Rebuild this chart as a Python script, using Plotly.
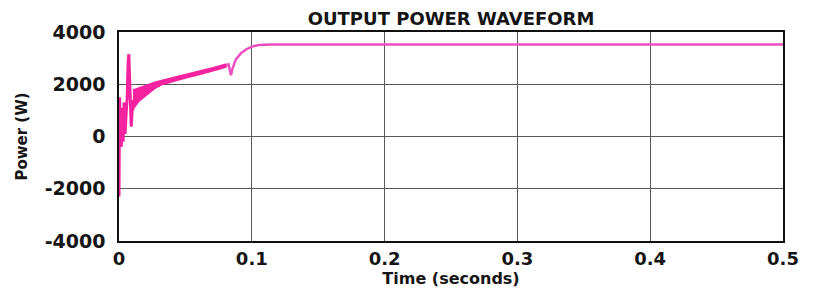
import plotly.graph_objects as go

# Thin waveform segments (time in s, power in W)
t_start = [0.0, 0.0004, 0.0010, 0.0017, 0.0024, 0.0031, 0.0038, 0.0046, 0.0054, 0.0062, 0.0068, 0.0074, 0.0080, 0.0086, 0.0092, 0.0098, 0.0105]
p_start = [-2300, 1500, 300, -400, 1100, -200, 1300, 100, 900, 1500, 2800, 3150, 2200, 700, 380, 900, 1400]

# Oscillating band (upper / lower envelope)
band_t = [0.0105, 0.012, 0.015, 0.018, 0.022, 0.027, 0.032, 0.040, 0.050, 0.060, 0.070, 0.077, 0.081]
band_hi = [1800, 1800, 1860, 1920, 1990, 2080, 2140, 2250, 2380, 2500, 2620, 2720, 2780]
band_lo = [1000, 1150, 1350, 1480, 1650, 1840, 1980, 2100, 2240, 2360, 2490, 2600, 2670]

t_end = [0.081, 0.0825, 0.0843, 0.0855, 0.088, 0.092, 0.096, 0.100, 0.105, 0.115, 0.5]
p_end = [2720, 2760, 2350, 2600, 2950, 3200, 3340, 3440, 3500, 3520, 3520]

x_ticks = [0, 0.1, 0.2, 0.3, 0.4, 0.5]
x_labels = ["0", "0.1", "0.2", "0.3", "0.4", "0.5"]
y_ticks = [-4000, -2000, 0, 2000, 4000]
y_labels = ["-4000", "-2000", "0", "2000", "4000"]

color = "#f5239f"
fig = go.Figure()
fig.add_trace(go.Scatter(x=band_t, y=band_lo, mode="lines", line=dict(color=color, width=1.5), hoverinfo="skip"))
fig.add_trace(go.Scatter(x=band_t, y=band_hi, mode="lines", line=dict(color=color, width=1.5), fill="tonexty", fillcolor=color))
fig.add_trace(go.Scatter(x=t_start, y=p_start, mode="lines", line=dict(color=color, width=3)))
fig.add_trace(go.Scatter(x=t_end, y=p_end, mode="lines", line=dict(color="#ec4fc0", width=2.5)))

font = "DejaVu Sans"
# page body has an 8px margin, so the figure is 8px smaller than the window
fig.update_layout(
    width=813, height=286,
    margin=dict(l=111, r=38, t=24, b=53, autoexpand=False),
    paper_bgcolor="white", plot_bgcolor="white",
    showlegend=False,
    title=dict(text="<b>OUTPUT POWER WAVEFORM</b>", x=0.5, xref="paper", xanchor="center",
               y=1, yref="container", yanchor="top", pad=dict(t=4),
               font=dict(family=font, size=18, color="#151515"), automargin=False),
    font=dict(family=font, color="#151515"),
)
fig.update_xaxes(range=[0, 0.5], tickvals=x_ticks, ticktext=["<b>%s</b>" % s for s in x_labels],
                 tickfont=dict(size=18, family=font), showgrid=True, gridcolor="#5a5a5a", gridwidth=1,
                 showline=True, linecolor="#111", linewidth=1.5, mirror=True, ticks="", zeroline=False,
                 automargin=False, ticklabelstandoff=1,
                 title=dict(text="<b>Time (seconds)</b>", font=dict(size=16, family=font), standoff=2))
fig.update_yaxes(range=[-4000, 4000], tickvals=y_ticks, ticktext=["<b>%s</b>" % s for s in y_labels],
                 tickfont=dict(size=19, family=font), showgrid=True, gridcolor="#5a5a5a", gridwidth=1,
                 showline=True, linecolor="#111", linewidth=1.5, mirror=True, ticks="", zeroline=False,
                 automargin=False, ticklabelstandoff=8,
                 title=dict(text="<b>Power (W)</b>", font=dict(size=15, family=font), standoff=13))
fig.write_html("out.html")
